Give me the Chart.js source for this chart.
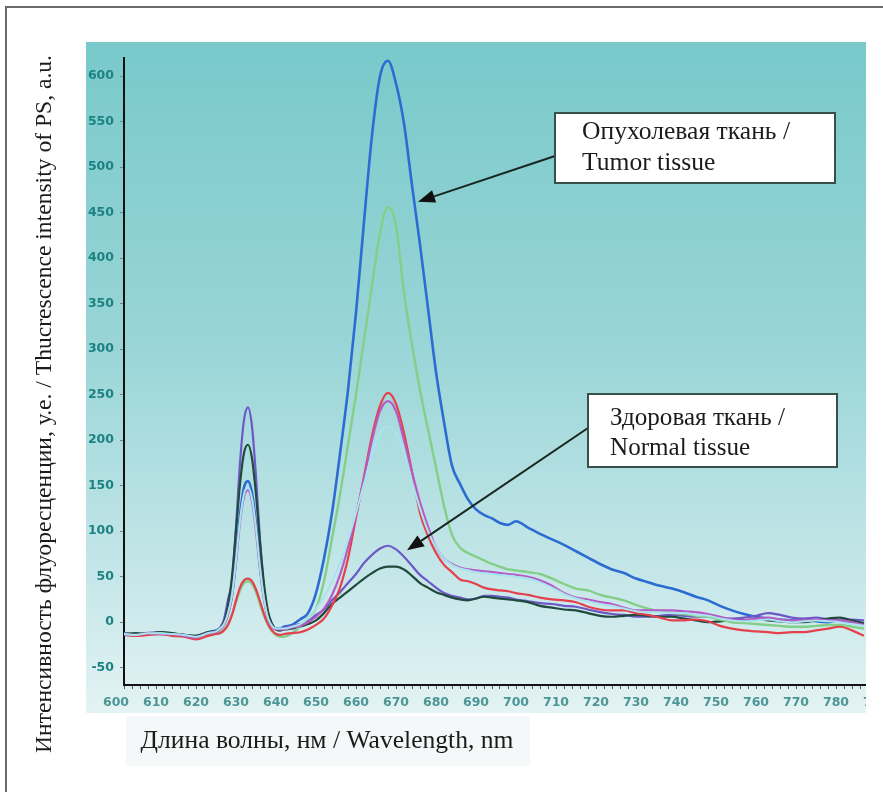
<!DOCTYPE html>
<html>
<head>
<meta charset="utf-8">
<script src="https://cdn.jsdelivr.net/npm/chart.js@4.4.1/dist/chart.umd.min.js"></script>
<style>
  html, body { margin: 0; padding: 0; background: #fff; }
  #wrap { position: relative; width: 883px; height: 792px; overflow: hidden; }
  #frame { position: absolute; left: 5px; top: 6px; right: -4px; bottom: -4px;
           border-top: 2px solid #6a6a6a; border-left: 2px solid #6a6a6a; pointer-events: none; }
  #spectra { position: absolute; left: 0; top: 0; }
</style>
</head>
<body>
<div id="wrap">
  <canvas id="spectra" width="866" height="792"></canvas>
  <div id="frame"></div>
</div>
<script>
// wavelength, nm
const wavelength = [
  602, 605, 608, 611, 614, 617, 620, 623,
  625, 626, 627, 628, 629, 630, 631, 632, 633, 634, 635, 636, 637, 638, 639, 640, 641,
  642, 644, 646, 648, 650, 652, 654, 656, 658, 660, 662, 664, 666, 668, 670, 672, 674, 676, 678, 680,
  682, 684, 686, 688, 690, 692, 694, 696, 698, 700,
  703, 706, 709, 712, 715, 718, 721, 724, 727, 730, 733, 736, 739, 742, 745, 748, 751, 754, 757, 760,
  763, 766, 769, 772, 775, 778, 781, 784, 787
];

// tumor tissue spectra
const tumorBlue = [
  -13, -14, -12, -12, -13, -14, -16, -11,
  -9, -7, -2, 10, 30, 70, 118, 148, 155, 142, 108, 62, 28, 6, -3, -7, -7,
  -5, -3, 3, 10, 32, 70, 120, 185, 255, 340, 440, 535, 600, 617, 592, 548, 480, 415, 345, 275,
  220, 172, 152, 135, 124, 118, 114, 109, 107, 111,
  104, 97, 91, 85, 78, 71, 64, 58, 54, 48, 44, 40, 37, 33, 28, 24, 18, 13, 9, 6,
  4, 3, 2, 3, 1, 0, 2, -1, -2
];
const tumorGreen = [
  -13, -14, -13, -12, -14, -15, -17, -14,
  -12, -11, -8, -2, 8, 22, 35, 43, 45, 42, 33, 20, 7, -3, -10, -14, -16,
  -16, -12, -5, 5, 15, 45, 92, 140, 195, 250, 310, 370, 428, 456, 436, 362, 305, 255, 212, 170,
  128, 96, 82, 76, 72, 68, 64, 61, 58, 57,
  55, 53, 48, 42, 37, 35, 30, 27, 24, 19, 15, 12, 10, 9, 7, 6, 3, 0, -1, -2,
  -3, -4, -5, -5, -4, -3, -3, -5, -7
];
const tumorRed = [
  -14, -15, -14, -13, -15, -16, -19, -15,
  -13, -12, -9, -3, 8, 24, 38, 46, 48, 45, 36, 23, 9, -2, -9, -13, -14,
  -13, -12, -11, -8, -3, 4, 18, 38, 70, 115, 160, 205, 238, 252, 240, 208, 165, 120, 95, 76,
  63, 55, 47, 45, 42, 38, 36, 35, 34, 32,
  30, 27, 25, 24, 22, 17, 14, 13, 13, 10, 8, 5, 2, 2, 3, 1, -4, -7, -9, -10,
  -11, -12, -11, -11, -9, -7, -5, -9, -15
];
const tumorMagenta = [
  -14, -14, -12, -13, -13, -15, -17, -12,
  -11, -8, -3, 8, 28, 65, 110, 138, 145, 133, 100, 58, 25, 4, -5, -8, -8,
  -8, -6, -4, 0, 6, 15, 30, 52, 82, 118, 158, 200, 232, 243, 232, 200, 165, 132, 105, 82,
  70, 64, 60, 58, 57, 56, 55, 54, 53, 52,
  50, 46, 40, 32, 27, 25, 22, 20, 16, 13, 13, 13, 13, 12, 11, 9, 6, 3, 2, 4,
  5, 3, 2, 2, 3, 2, 2, 0, -3
];
const tumorCyan = [
  -13, -14, -12, -12, -13, -14, -16, -12,
  -10, -7, -2, 10, 30, 68, 112, 141, 148, 136, 103, 60, 26, 5, -4, -7, -7,
  -7, -5, -2, 5, 15, 28, 45, 65, 90, 120, 152, 185, 208, 215, 208, 185, 155, 125, 100, 82,
  70, 63, 59, 57, 55, 54, 53, 52, 51, 50,
  48, 44, 38, 31, 26, 23, 20, 18, 15, 12, 11, 11, 10, 10, 8, 7, 4, 2, 1, 2,
  3, 1, 0, 1, 2, 1, 0, -2, -4
];

// normal tissue spectra
const normalViolet = [
  -12, -13, -12, -11, -13, -14, -15, -11,
  -10, -6, 3, 25, 45, 105, 175, 222, 236, 215, 160, 90, 38, 8, -2, -8, -9,
  -6, -4, -2, 1, 8, 14, 24, 33, 43, 53, 65, 74, 81, 84, 80, 72, 62, 52, 45, 38,
  32, 29, 27, 25, 26, 29, 29, 28, 27, 25,
  23, 21, 20, 18, 17, 14, 11, 9, 8, 6, 6, 7, 8, 7, 6, 6, 5, 4, 5, 7,
  10, 8, 5, 4, 5, 3, 2, 3, 2
];
const normalDark = [
  -13, -12, -13, -11, -12, -14, -15, -11,
  -10, -7, 0, 18, 50, 100, 152, 186, 195, 180, 140, 88, 42, 12, -2, -8, -9,
  -8, -7, -5, -2, 2, 10, 20, 27, 34, 41, 48, 54, 59, 61, 61, 58, 51, 43, 38, 33,
  30, 27, 25, 24, 26, 28, 27, 26, 25, 24,
  22, 18, 16, 14, 13, 10, 7, 6, 7, 8, 7, 6, 6, 4, 2, 0, 1, 2, 2, 3,
  2, 1, 0, 0, 2, 4, 5, 2, -1
];

const xTickLabels = [600, 610, 620, 630, 640, 650, 660, 670, 680, 690, 700, 710, 720, 730, 740, 750, 760, 770, 780, 790];
const yTickLabels = [-50, 0, 50, 100, 150, 200, 250, 300, 350, 400, 450, 500, 550, 600];

const yTitle = "Интенсивность флуоресценции, у.е. / Thucrescence intensity of PS, a.u.";
const xTitle = "Длина волны, нм / Wavelength, nm";
const tumorNote = ["Опухолевая ткань /", "Tumor tissue"];
const normalNote = ["Здоровая ткань /", "Normal tissue"];

// minor ticks every 2 nm, labels only on the tens
const xMinor = [];
for (let v = 600; v <= 790; v += 2) xMinor.push(v);

const pts = (vals) => wavelength.map((x, i) => ({ x: x, y: vals[i] }));

function fitFont(ctx, text, width, family) {
  ctx.font = "40px " + family;
  const size = 40 * width / ctx.measureText(text).width;
  ctx.font = size.toFixed(2) + "px " + family;
  return size;
}

function arrow(ctx, x0, y0, x1, y1) {
  const a = Math.atan2(y1 - y0, x1 - x0), L = 17, W = 6.5;
  const bx = x1 - L * Math.cos(a), by = y1 - L * Math.sin(a);
  ctx.beginPath();
  ctx.moveTo(x0, y0);
  ctx.lineTo(bx, by);
  ctx.stroke();
  ctx.beginPath();
  ctx.moveTo(x1, y1);
  ctx.lineTo(bx + W * Math.sin(a), by - W * Math.cos(a));
  ctx.lineTo(bx - W * Math.sin(a), by + W * Math.cos(a));
  ctx.closePath();
  ctx.fill();
}

function noteBox(ctx, left, top, w, h, lines, textX, base1, base2, lineWidth) {
  ctx.fillStyle = "#ffffff";
  ctx.fillRect(left, top, w, h);
  ctx.strokeStyle = "#36504b";
  ctx.lineWidth = 2;
  ctx.strokeRect(left, top, w, h);
  ctx.fillStyle = "#1b1b1b";
  ctx.textAlign = "left";
  ctx.textBaseline = "alphabetic";
  fitFont(ctx, lines[0], lineWidth, '"Liberation Serif", serif');
  ctx.fillText(lines[0], textX, base1);
  ctx.fillText(lines[1], textX, base2);
}

const serif = '"Liberation Serif", "Times New Roman", serif';

const decor = {
  id: "decor",
  beforeDraw(chart) {
    const ctx = chart.ctx;
    ctx.save();
    const g = ctx.createLinearGradient(0, 42, 0, 713);
    g.addColorStop(0, "#79c9ca");
    g.addColorStop(0.45, "#99d5d7");
    g.addColorStop(0.8, "#c6e7e9");
    g.addColorStop(1, "#e4f3f4");
    ctx.fillStyle = g;
    ctx.fillRect(86, 42, 780, 671);
    ctx.fillStyle = "#f5f8f8";
    ctx.fillRect(126, 716, 404, 50);
    ctx.restore();
  },
  afterDraw(chart) {
    const ctx = chart.ctx;
    const x = chart.scales.x, y = chart.scales.y;
    ctx.save();

    // axis titles
    ctx.fillStyle = "#1b1b1b";
    ctx.textAlign = "center";
    ctx.textBaseline = "middle";
    fitFont(ctx, xTitle, 373, serif);
    ctx.fillText(xTitle, 327, 741);

    ctx.save();
    ctx.translate(45, 404);
    ctx.rotate(-Math.PI / 2);
    fitFont(ctx, yTitle, 698, serif);
    ctx.fillText(yTitle, 0, 0);
    ctx.restore();

    // arrows pointing at the spectra
    ctx.strokeStyle = "#18261f";
    ctx.fillStyle = "#111";
    ctx.lineWidth = 2;
    arrow(ctx, 555, 156, x.getPixelForValue(675.5), y.getPixelForValue(462));
    arrow(ctx, 588, 428, x.getPixelForValue(672.75), y.getPixelForValue(79));

    noteBox(ctx, 555, 113, 280, 70, tumorNote, 582, 139, 170, 208);
    noteBox(ctx, 588, 394, 249, 73, normalNote, 610, 425, 455, 175);
    ctx.restore();
  }
};

const tickFont = { family: "DejaVu Sans", size: 12.5, weight: "bold" };

new Chart(document.getElementById("spectra"), {
  type: "line",
  data: {
    datasets: [
      { data: pts(tumorCyan), borderColor: "#a9e3ee", borderWidth: 2 },
      { data: pts(tumorMagenta), borderColor: "#b65ac6", borderWidth: 2.2 },
      { data: pts(tumorRed), borderColor: "#e5404c", borderWidth: 2.2 },
      { data: pts(tumorGreen), borderColor: "#84cf88", borderWidth: 2.4 },
      { data: pts(normalDark), borderColor: "#1f4a3c", borderWidth: 2.2 },
      { data: pts(normalViolet), borderColor: "#6c58c6", borderWidth: 2.2 },
      { data: pts(tumorBlue), borderColor: "#2c6cd2", borderWidth: 2.6 }
    ]
  },
  options: {
    responsive: false,
    animation: false,
    devicePixelRatio: 1,
    layout: { padding: { left: 0, top: 58, right: 0, bottom: 0 } },
    elements: {
      point: { radius: 0 },
      line: { cubicInterpolationMode: "monotone", fill: false }
    },
    plugins: { legend: { display: false }, tooltip: { enabled: false } },
    scales: {
      x: {
        type: "linear",
        min: 602,
        max: 787.5,
        afterBuildTicks: (s) => { s.ticks = xMinor.map((v) => ({ value: v })); },
        afterFit: (s) => { s.height = 107; s.paddingLeft = 0; s.paddingRight = 0; },
        ticks: {
          autoSkip: false, maxRotation: 0, minRotation: 0, padding: 6,
          color: "#4d9595", font: tickFont,
          callback: (v) => (xTickLabels.includes(v) ? String(v) : "")
        },
        grid: {
          drawOnChartArea: false, tickLength: 4, lineWidth: 1,
          color: (c) => (c.tick && c.tick.value >= 602 ? "#556" : "rgba(0,0,0,0)")
        },
        border: { color: "#111", width: 2 }
      },
      y: {
        min: -69,
        max: 620,
        afterBuildTicks: (s) => { s.ticks = yTickLabels.map((v) => ({ value: v })); },
        afterFit: (s) => { s.width = 124; s.paddingTop = 0; s.paddingBottom = 0; },
        ticks: { padding: 6, color: "#1c8282", font: tickFont },
        grid: { drawOnChartArea: false, tickLength: 4, color: "#6a8a8a" },
        border: { color: "#111", width: 2 }
      }
    }
  },
  plugins: [decor]
});
</script>
</body>
</html>
